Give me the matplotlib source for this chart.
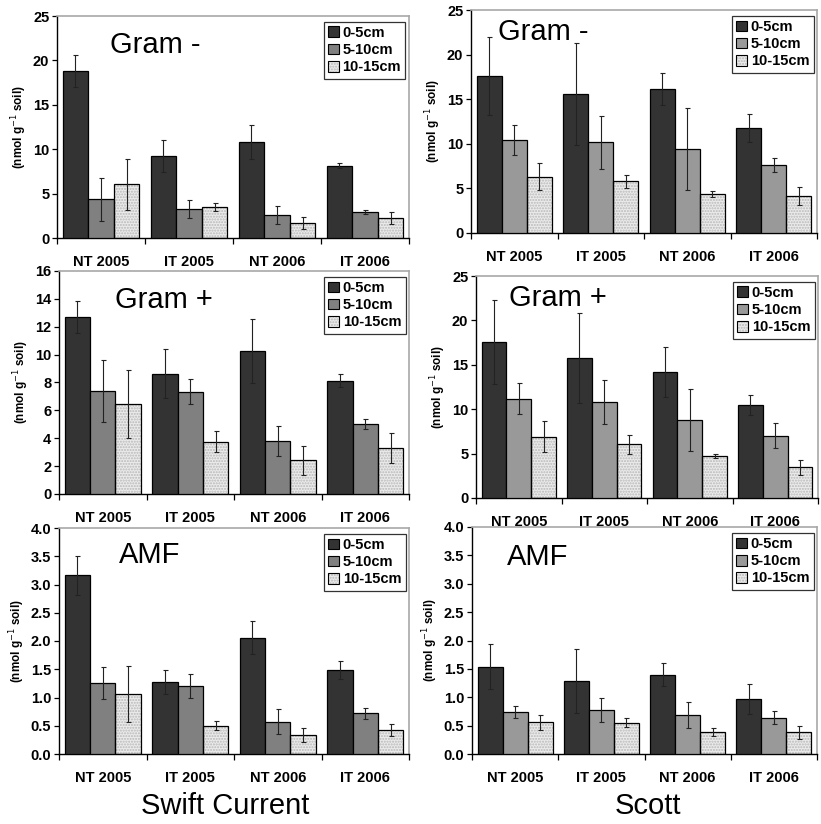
import numpy as np
import matplotlib.pyplot as plt
from matplotlib.patches import Patch

plt.rcParams['font.family'] = ['Liberation Sans', 'DejaVu Sans']

groups = ['NT 2005', 'IT 2005', 'NT 2006', 'IT 2006']
depths = ['0-5cm', '5-10cm', '10-15cm']

# Swift Current
sc_gneg = [[18.8, 9.2, 10.8, 8.15], [4.35, 3.25, 2.6, 2.95], [6.05, 3.45, 1.7, 2.25]]
sc_gneg_err = [[1.85, 1.8, 1.95, 0.3], [2.4, 1.05, 1.05, 0.25], [2.9, 0.45, 0.65, 0.65]]
sc_gpos = [[12.7, 8.63, 10.28, 8.13], [7.4, 7.34, 3.8, 5.02], [6.48, 3.75, 2.42, 3.3]]
sc_gpos_err = [[1.15, 1.75, 2.3, 0.47], [2.25, 0.9, 1.05, 0.35], [2.45, 0.75, 1.05, 1.05]]
sc_amf = [[3.16, 1.27, 2.06, 1.48], [1.26, 1.21, 0.57, 0.72], [1.06, 0.5, 0.34, 0.42]]
sc_amf_err = [[0.35, 0.21, 0.29, 0.16], [0.28, 0.21, 0.22, 0.1], [0.49, 0.08, 0.12, 0.11]]

# Scott
st_gneg = [[17.6, 15.6, 16.1, 11.75], [10.4, 10.15, 9.45, 7.6], [6.3, 5.8, 4.4, 4.15]]
st_gneg_err = [[4.4, 5.7, 1.8, 1.6], [1.7, 3.0, 4.6, 0.8], [1.5, 0.75, 0.35, 1.0]]
st_gpos = [[17.55, 15.75, 14.15, 10.48], [11.2, 10.78, 8.83, 7.0], [6.92, 6.03, 4.72, 3.48]]
st_gpos_err = [[4.7, 5.05, 2.8, 1.15], [1.75, 2.5, 3.5, 1.4], [1.7, 1.07, 0.25, 0.85]]
st_amf = [[1.54, 1.29, 1.4, 0.97], [0.74, 0.78, 0.68, 0.64], [0.56, 0.55, 0.38, 0.38]]
st_amf_err = [[0.39, 0.56, 0.2, 0.27], [0.11, 0.21, 0.23, 0.12], [0.13, 0.08, 0.07, 0.12]]

W, H = 821, 824
fig = plt.figure(figsize=(W / 100, H / 100), dpi=100)


def px_axes(l, t, r, b):
    return fig.add_axes([l / W, 1 - b / H, (r - l) / W, (b - t) / H])


def panel(box, vals, errs, ymax, yticks, yfmt, title, title_xy, mid_color):
    ax = px_axes(*box)
    x = np.arange(len(groups)) + 0.5
    bw = 0.29
    colors = ['#333333', mid_color, '#ebebeb']
    for j in range(3):
        xs = x + (j - 1) * bw
        if j == 2:
            ax.bar(xs, vals[j], bw, color=colors[j], hatch='......', edgecolor='#b8b8b8',
                   linewidth=0, zorder=2)
            ax.bar(xs, vals[j], bw, fill=False, edgecolor='black', linewidth=0.9, zorder=3)
        else:
            ax.bar(xs, vals[j], bw, color=colors[j], edgecolor='black', linewidth=0.9, zorder=3)
        ax.errorbar(xs, vals[j], yerr=errs[j], fmt='none', ecolor='#222222',
                    elinewidth=0.8, capsize=1.8, capthick=0.8, zorder=4)
    ax.set_xlim(0, 4)
    ax.set_ylim(0, ymax)
    ax.set_yticks(yticks)
    ax.set_yticklabels([yfmt.format(v) for v in yticks], fontweight='bold', fontsize=10.5)
    ax.set_xticks([0, 1, 2, 3, 4])
    ax.set_xticklabels([])
    ax.set_xticks(x, minor=True)
    ax.set_xticklabels(groups, minor=True, fontweight='bold', fontsize=10.5)
    ax.tick_params(axis='x', which='major', direction='out', length=4, width=0.9)
    ax.tick_params(axis='x', which='minor', length=0, pad=12)
    ax.tick_params(axis='y', direction='out', length=3.5, width=0.9, pad=2)
    for s in ['top', 'right']:
        ax.spines[s].set_color('#a8a8a8')
        ax.spines[s].set_linewidth(1.2)
    for s in ['left', 'bottom']:
        ax.spines[s].set_linewidth(1.0)
    ax.set_ylabel('(nmol g$^{-1}$ soil)', fontweight='bold', fontsize=8.5, labelpad=3)
    ax.text(title_xy[0], title_xy[1], title, transform=ax.transAxes, fontsize=21,
            ha='center', va='center')
    handles = [Patch(facecolor=colors[0], edgecolor='black', linewidth=0.8),
               Patch(facecolor=colors[1], edgecolor='black', linewidth=0.8),
               (Patch(facecolor=colors[2], hatch='......', edgecolor='#b8b8b8', linewidth=0),
                Patch(fill=False, edgecolor='black', linewidth=0.8))]
    leg = ax.legend(handles, depths, loc='upper right', bbox_to_anchor=(0.99, 0.975),
                    prop={'weight': 'bold', 'size': 10.5}, handlelength=0.75, handleheight=0.75,
                    handletextpad=0.25, borderpad=0.3, labelspacing=0.22, borderaxespad=0,
                    frameon=True, fancybox=False)
    leg.get_frame().set_edgecolor('black')
    leg.get_frame().set_linewidth(0.9)
    return ax


panel((57, 16, 409, 238), sc_gneg, sc_gneg_err, 25, [0, 5, 10, 15, 20, 25], '{:.0f}',
      'Gram -', (0.28, 0.87), '#808080')
panel((471, 10, 817, 233), st_gneg, st_gneg_err, 25, [0, 5, 10, 15, 20, 25], '{:.0f}',
      'Gram -', (0.21, 0.9), '#999999')
panel((59, 271, 409, 494), sc_gpos, sc_gpos_err, 16, [0, 2, 4, 6, 8, 10, 12, 14, 16], '{:.0f}',
      'Gram +', (0.3, 0.87), '#808080')
panel((476, 276, 818, 498), st_gpos, st_gpos_err, 25, [0, 5, 10, 15, 20, 25], '{:.0f}',
      'Gram +', (0.24, 0.9), '#999999')
panel((59, 528, 409, 754), sc_amf, sc_amf_err, 4.0, [0, 0.5, 1.0, 1.5, 2.0, 2.5, 3.0, 3.5, 4.0],
      '{:.1f}', 'AMF', (0.26, 0.88), '#808080')
panel((472, 527, 817, 754), st_amf, st_amf_err, 4.0, [0, 0.5, 1.0, 1.5, 2.0, 2.5, 3.0, 3.5, 4.0],
      '{:.1f}', 'AMF', (0.19, 0.87), '#999999')

fig.text(225 / W, 1 - 806 / H, 'Swift Current', fontsize=21, ha='center', va='center')
fig.text(648 / W, 1 - 806 / H, 'Scott', fontsize=21, ha='center', va='center')

fig.savefig('out.png', dpi=100)
